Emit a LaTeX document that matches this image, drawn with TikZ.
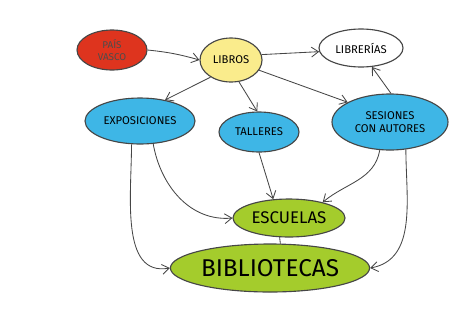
\documentclass[tikz,border=0pt]{standalone}
\usepackage{fontspec}
\setmainfont{Fira Sans}
\usetikzlibrary{positioning,shapes.geometric,arrows.meta,calc}
\definecolor{mapred}{RGB}{222, 52, 30}
\definecolor{mapyellow}{RGB}{250, 236, 140}
\definecolor{mapblue}{RGB}{62, 182, 230}
\definecolor{mapgreen}{RGB}{164, 204, 44}
\definecolor{mapline}{RGB}{70, 70, 70}
\tikzset{
  idea/.style={ellipse, draw=mapline, line width=0.8pt, inner sep=1pt, font=\footnotesize},
  link/.style={draw=mapline, line width=0.6pt, -{Straight Barb[length=5pt,width=7pt]}}
}

\begin{document}
\begin{tikzpicture}[x=0.025cm, y=-0.025cm]
          \useasboundingbox (0,0) rectangle (464,330);
          % Ideas
          \node[idea, fill=mapred, text=black!70, minimum width=70*0.025cm, minimum height=40*0.025cm, font=\scriptsize, align=center] (pais) at (112,50) {PAÍS\\VASCO};
          \node[idea, fill=mapyellow, minimum width=62*0.025cm, minimum height=44*0.025cm] (libros) at (231,60) {LIBROS};
          \node[idea, fill=white, minimum width=84*0.025cm, minimum height=38*0.025cm] (librerias) at (361,48) {LIBRERÍAS};
          \node[idea, fill=mapblue, minimum width=110*0.025cm, minimum height=46*0.025cm] (expo) at (140,121) {EXPOSICIONES};
          \node[idea, fill=mapblue, minimum width=80*0.025cm, minimum height=40*0.025cm] (talleres) at (259,132) {TALLERES};
          \node[idea, fill=mapblue, minimum width=116*0.025cm, minimum height=56*0.025cm, align=center] (sesiones) at (390,122) {SESIONES\\CON AUTORES};
          \node[idea, fill=mapgreen, minimum width=112*0.025cm, minimum height=38*0.025cm, font=\large] (escuelas) at (289,218) {ESCUELAS};
          \node[idea, fill=mapgreen, minimum width=170*0.025cm, minimum height=48*0.025cm, font=\LARGE] (bibliotecas) at (270,268) {BIBLIOTECAS};
          % Links
          \draw[link] (pais.east) to[bend left=5] (libros.west);
          \draw[link] (libros.10) -- (librerias.185);
          \draw[link] (libros.220) -- (expo.40);
          \draw[link] (libros.290) -- (talleres.95);
          \draw[link] (libros.340) -- (sesiones.155);
          \draw[link] (sesiones.88) -- (librerias.300);
          \draw[link] (expo.300) to[out=-80, in=185] (escuelas.west);
          \draw[link] (expo.250) to[out=-90, in=190] (bibliotecas.west);
          \draw[link] (talleres.south) -- (escuelas.130);
          \draw[link] (sesiones.250) to[out=-100, in=40] (escuelas.25);
          \draw[link] (sesiones.300) to[out=-90, in=10] (bibliotecas.east);
          \draw[draw=mapline, line width=0.6pt] (escuelas.244) -- (bibliotecas.67);
        \end{tikzpicture}
\end{document}
